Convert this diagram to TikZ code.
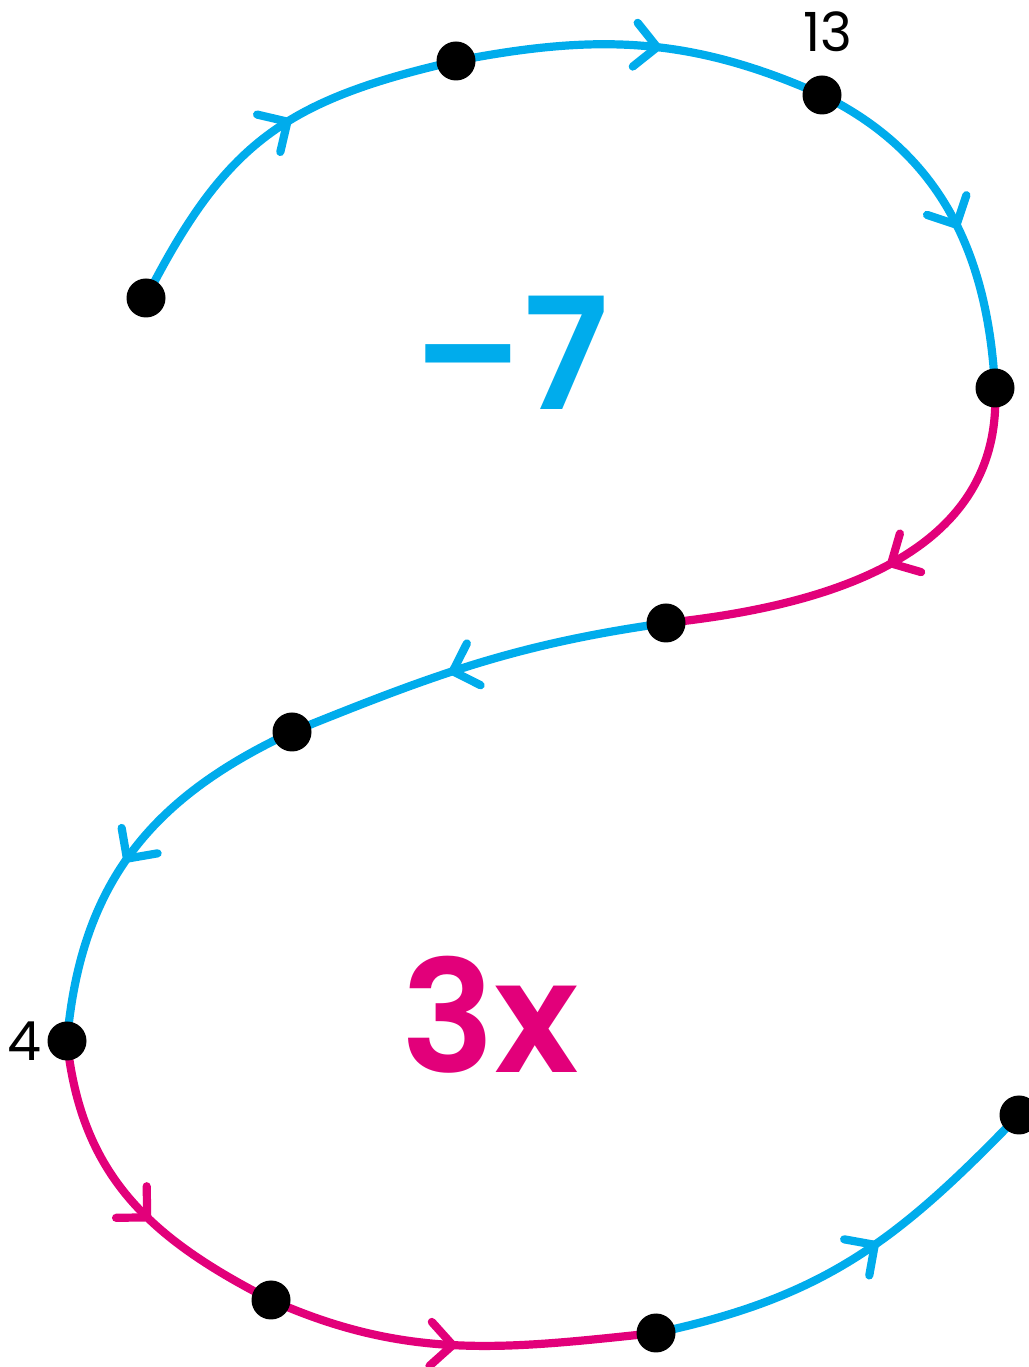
\documentclass[tikz,border=0pt]{standalone}
\usepackage{fontspec}
\usetikzlibrary{decorations.markings}
\definecolor{myblue}{RGB}{0,172,236}
\definecolor{mymag}{RGB}{226,0,122}
\newfontfamily\labfont{Poppins}
\newfontfamily\bigfont{Poppins}[UprightFont=* SemiBold]
\tikzset{
  seg/.style={line width=4.1pt, line cap=round, draw=#1},
  arr/.style 2 args={postaction={decorate,decoration={markings,
     mark=at position #1 with {\draw[#2, line width=4.1pt, line cap=round, line join=round] (-11pt,11pt) -- (0,0) -- (-11pt,-11pt);}}}},
  dot/.style={circle, fill=black, inner sep=0pt, minimum size=19.5pt},
  lab/.style={font=\labfont\fontsize{27}{30}\selectfont, text=black},
  big/.style={font=\bigfont\fontsize{78}{90}\selectfont}
}
\begin{document}
\begin{tikzpicture}[x=0.5pt,y=0.5pt]
\useasboundingbox (0,0) rectangle (1029,1367);
\clip (0,0) rectangle (1029,1367);
\coordinate (p1) at (146,1069);
\coordinate (p2) at (456,1306);
\coordinate (p3) at (822,1272);
\coordinate (p4) at (995,979);
\coordinate (p5) at (666,744);
\coordinate (p6) at (292,635);
\coordinate (p7) at (67,326);
\coordinate (p8) at (271,67);
\coordinate (p9) at (656,34);
\coordinate (p10) at (1019,252);

\draw[seg=myblue, arr={0.56}{myblue}] (p1) to[out=63,in=193,looseness=1.15] (p2);
\draw[seg=myblue, arr={0.54}{myblue}] (p2) to[out=11,in=156] (p3);
\draw[seg=myblue, arr={0.53}{myblue}] (p3) to[out=-26,in=93] (p4);
\draw[seg=mymag, arr={0.48}{mymag}] (p4) to[out=-87,in=6,looseness=1.05] (p5);
\draw[seg=myblue, arr={0.56}{myblue}] (p5) to[out=188,in=22] (p6);
\draw[seg=myblue, arr={0.52}{myblue}] (p6) to[out=205,in=85,looseness=1.05] (p7);
\draw[seg=mymag, arr={0.57}{mymag}] (p7) to[out=-84,in=153,looseness=1.05] (p8);
\draw[seg=mymag, arr={0.48}{mymag}] (p8) to[out=-24,in=186] (p9);
\draw[seg=myblue, arr={0.55}{myblue}] (p9) to[out=12,in=226,looseness=1.05] (p10);

\foreach \i in {1,...,10} { \node[dot] (d\i) at (p\i) {}; }

\node[lab] (l13) at (828,1335) {13};
\node[lab] (l4) at (24,326) {4};
\node[big, text=myblue] (m7) at (511,1014) {–7};
\node[big, text=mymag] (t3x) at (490,352) {3x};
\end{tikzpicture}
\end{document}
